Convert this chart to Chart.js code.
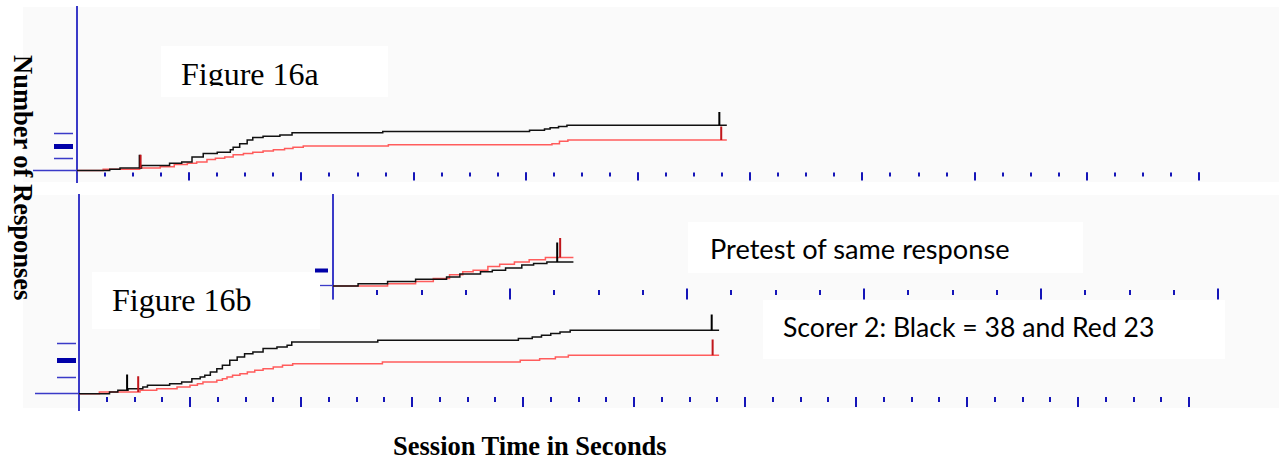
<!DOCTYPE html>
<html lang="en">
<head>
<meta charset="utf-8">
<title>Cumulative response records</title>
<script src="https://cdn.jsdelivr.net/npm/chart.js@4.4.1/dist/chart.umd.min.js"></script>
<style>
  html, body { margin: 0; padding: 0; background: #ffffff; }
  #stage { position: relative; width: 1279px; height: 461px; overflow: hidden; }
  .panel { position: absolute; background: #fafafa; }
  .box { position: absolute; background: #ffffff; overflow: hidden; }
  .txt { position: absolute; white-space: nowrap; color: #000; margin: 0; padding: 0; }
  canvas { position: absolute; left: 0; top: 0; }
</style>
</head>
<body>
<div id="stage">
  <canvas id="chartA" width="1279" height="461"></canvas>
  <canvas id="chartB" width="1279" height="461"></canvas>
  <canvas id="chartP" width="1279" height="461"></canvas>
</div>
<script>
// ---- Cumulative records: step times (s) and running response counts ----
// Figure 16a
const blackA_t = [0, 35, 46, 69, 99, 112, 123, 135, 150, 164, 167, 174, 182, 188, 199, 217, 230, 327, 484, 500, 506, 515, 524, 695];
const blackA_n = [0, 1, 2, 4, 6, 7, 11, 14, 15, 17, 19, 22, 25, 27, 28, 29, 31, 32, 33, 34, 35, 36, 37, 37];
const redA_t   = [0, 28, 67, 89, 104, 118, 128, 139, 148, 158, 167, 178, 188, 199, 210, 222, 231, 242, 333, 508, 516, 525, 695];
const redA_n   = [0, 1, 2, 3, 5, 6, 7, 9, 10, 11, 13, 14, 15, 16, 17, 18, 19, 20, 21, 22, 24, 25, 25];
const blackA_marks = [67, 687];
const redA_marks   = [68, 689];

// Figure 16b (scorer 2)
const blackB_t = [0, 33, 42, 53, 69, 74, 98, 111, 122, 131, 136, 142, 149, 155, 163, 171, 179, 188, 199, 214, 225, 230, 323, 475, 490, 500, 510, 520, 531, 692];
const blackB_n = [0, 1, 2, 3, 4, 5, 6, 7, 9, 10, 11, 13, 15, 17, 20, 22, 24, 25, 27, 28, 29, 31, 32, 33, 34, 35, 36, 37, 38, 38];
const redB_t   = [0, 22, 66, 84, 106, 120, 128, 134, 149, 155, 160, 166, 174, 182, 190, 199, 210, 220, 231, 328, 477, 498, 515, 529, 692];
const redB_n   = [0, 1, 2, 3, 4, 5, 6, 7, 8, 9, 10, 11, 12, 13, 14, 15, 16, 17, 18, 19, 20, 21, 22, 23, 23];
const blackB_marks = [52, 684];
const redB_marks   = [64, 685];

// Pretest of the same response
const blackP_t = [0, 17, 37, 56, 77, 86, 100, 108, 117, 128, 136, 145, 163];
const blackP_n = [0, 3, 6, 9, 12, 16, 19, 21, 24, 28, 30, 32, 32];
const redP_t   = [0, 37, 56, 68, 79, 88, 95, 105, 113, 123, 133, 144, 163];
const redP_n   = [0, 3, 6, 10, 15, 19, 21, 26, 29, 32, 35, 38, 38];
const blackP_marks = [152];
const redP_marks   = [154];

// Count-axis tick values
const countTicksMain = [0, 10, 20, 30];
const countTicksPre  = [0, 20];

// ---- helpers ----
const last = a => a[a.length - 1];
const stepPoints = (times, counts) => times.map((t, i) => ({x: t, y: counts[i]}));
function countAt(times, counts, t) {
  let n = 0;
  for (let i = 0; i < times.length; i++) if (times[i] <= t) n = counts[i];
  return n;
}
function markerPoints(marks, times, counts, rise) {
  const pts = [];
  marks.forEach(t => {
    const n = countAt(times, counts, t);
    pts.push({x: t, y: n}, {x: t, y: n + rise}, {x: t, y: null});
  });
  return pts;
}

const AXIS_BLUE = '#3a3ac8';
const TICK_BLUE = '#1515b8';
const THICK_BLUE = '#0000a8';
const LINE_BLACK = '#111111';
const LINE_RED = '#ff5c5c';
const MARK_RED = '#c0161b';

function makeRecord(canvasId, cfg) {
  const isThick = c => c.tick && c.tick.value === 20;
  const isBase = c => c.tick && c.tick.value === 0;
  const xAxis = (step, gap, len) => ({
    type: 'linear', axis: 'x', min: 0, max: cfg.xMax, position: {y: 0},
    ticks: {display: false, stepSize: step},
    grid: {display: true, drawOnChartArea: false, drawTicks: true, lineWidth: 2,
           tickLength: gap + len, tickWidth: 2, tickColor: TICK_BLUE,
           tickBorderDash: [0, gap, len, 200]},
    border: {display: false}
  });
  return new Chart(document.getElementById(canvasId), {
    type: 'line',
    data: {
      datasets: [
        {data: markerPoints(cfg.redMarks, cfg.redT, cfg.redN, cfg.rise), borderColor: MARK_RED, borderWidth: 2,
         pointRadius: 0, spanGaps: false, stepped: false},
        {data: markerPoints(cfg.blackMarks, cfg.blackT, cfg.blackN, cfg.rise), borderColor: '#000000', borderWidth: 2,
         pointRadius: 0, spanGaps: false, stepped: false},
        {data: stepPoints(cfg.blackT, cfg.blackN), borderColor: LINE_BLACK, borderWidth: 1.5, pointRadius: 0, stepped: true},
        {data: stepPoints(cfg.redT, cfg.redN), borderColor: LINE_RED, borderWidth: 1.5, pointRadius: 0, stepped: true}
      ]
    },
    options: {
      responsive: false, animation: false, devicePixelRatio: 1, events: [],
      layout: {padding: cfg.area},
      plugins: {legend: {display: false}, tooltip: {enabled: false}},
      scales: {
        x: xAxis(cfg.minorStep, cfg.xt.gap, cfg.xt.minor),
        xMajor: xAxis(cfg.majorStep, cfg.xt.majorGap, cfg.xt.major),
        y: {
          type: 'linear', min: cfg.yMin, max: cfg.yMax, position: {x: 0},
          afterBuildTicks: s => { s.ticks = cfg.yTicks.map(v => ({value: v})); },
          ticks: {display: false},
          grid: {display: true, drawOnChartArea: false, drawTicks: true, lineWidth: 1,
                 tickLength: Math.max(cfg.yt.base, cfg.yt.gap + cfg.yt.len),
                 tickWidth: c => isThick(c) ? cfg.yt.thick : 1.3,
                 tickColor: c => isThick(c) ? THICK_BLUE : AXIS_BLUE,
                 tickBorderDash: c => isBase(c) ? [cfg.yt.base, 200] : [0, cfg.yt.gap, cfg.yt.len, 200]},
          border: {display: true, color: AXIS_BLUE, width: 2}
        }
      }
    }
  });
}

// ---- page furniture: panel backgrounds, text boxes, titles ----
const stage = document.getElementById('stage');
const firstCanvas = document.getElementById('chartA');
function addRect(cls, r) {
  const d = document.createElement('div');
  d.className = cls;
  Object.assign(d.style, {left: r.l + 'px', top: r.t + 'px', width: (r.r - r.l) + 'px', height: (r.b - r.t) + 'px'});
  stage.insertBefore(d, firstCanvas);
  return d;
}
const measure = document.createElement('canvas').getContext('2d');
function addText(spec) {
  measure.font = spec.font;
  const m = measure.measureText(spec.text);
  const asc = m.fontBoundingBoxAscent, desc = m.fontBoundingBoxDescent;
  const el = document.createElement('div');
  el.className = 'txt';
  el.textContent = spec.text;
  el.style.font = spec.font;
  el.style.lineHeight = (asc + desc) + 'px';
  let host = stage, ox = 0, oy = 0;
  if (spec.clip) {
    host = addRect('box', spec.clip);
    ox = spec.clip.l; oy = spec.clip.t;
  }
  el.style.left = (spec.x - ox) + 'px';
  el.style.top = (spec.baseline - asc - oy) + 'px';
  const tf = [];
  if (spec.rotate) tf.push('rotate(' + spec.rotate + 'deg)');
  if (spec.width) tf.push('scaleX(' + (spec.width / m.width) + ')');
  if (tf.length) { el.style.transformOrigin = '0px ' + asc + 'px'; el.style.transform = tf.join(' '); }
  if (host === stage) stage.insertBefore(el, firstCanvas); else host.appendChild(el);
}

addRect('panel', {l: 23, t: 7, r: 1279, b: 182});
addRect('panel', {l: 23, t: 195, r: 1279, b: 408});
addRect('box', {l: 161, t: 46, r: 388, b: 97});
addRect('box', {l: 92, t: 272, r: 320, b: 329});
addRect('box', {l: 688, t: 222, r: 1083, b: 273});
addRect('box', {l: 763, t: 300, r: 1225, b: 359});

const SERIF = '"Liberation Serif", "Times New Roman", serif';
const SANS = 'Lato, "Open Sans", sans-serif';
addText({text: 'Figure 16a', font: '32px ' + SERIF, x: 181, baseline: 85, clip: {l: 161, t: 46, r: 388, b: 86}});
addText({text: 'Figure 16b', font: '32px ' + SERIF, x: 112, baseline: 310.5});
addText({text: 'Pretest of same response', font: '26px ' + SANS, x: 710, baseline: 259, width: 300});
addText({text: 'Scorer 2: Black = ' + last(blackB_n) + ' and Red ' + last(redB_n), font: '26px ' + SANS, x: 783, baseline: 337, width: 372});
addText({text: 'Session Time in Seconds', font: 'bold 26.5px ' + SERIF, x: 393, baseline: 455});
addText({text: 'Number of Responses', font: 'bold 26.5px ' + SERIF, x: 14, baseline: 55, rotate: 90});

// ---- the three cumulative records ----
makeRecord('chartA', {
  area: {left: 77, top: 7, right: 80, bottom: 279}, xMax: 1200, minorStep: 30, majorStep: 120,
  yMin: -9.43, yMax: 134, yTicks: countTicksMain, rise: 11,
  xt: {gap: 2.5, minor: 4, majorGap: 2.5, major: 8},
  yt: {base: 43, gap: 3, len: 19, thick: 5},
  blackT: blackA_t, blackN: blackA_n, redT: redA_t, redN: redA_n,
  blackMarks: blackA_marks, redMarks: redA_marks
});
makeRecord('chartB', {
  area: {left: 79, top: 195, right: 90, bottom: 51}, xMax: 1200, minorStep: 30, majorStep: 120,
  yMin: -9.76, yMax: 119, yTicks: countTicksMain, rise: 9.5,
  xt: {gap: 3, minor: 5, majorGap: 3, major: 10},
  yt: {base: 43, gap: 2, len: 19, thick: 5},
  blackT: blackB_t, blackN: blackB_n, redT: redB_t, redN: redB_n,
  blackMarks: blackB_marks, redMarks: redB_marks
});
makeRecord('chartP', {
  area: {left: 333, top: 195, right: 61, bottom: 163}, xMax: 600, minorStep: 30, majorStep: 120,
  yMin: -16, yMax: 121.3, yTicks: countTicksPre, rise: 26,
  xt: {gap: 4, minor: 5, majorGap: 2.5, major: 11},
  yt: {base: 12, gap: 4, len: 13, thick: 4},
  blackT: blackP_t, blackN: blackP_n, redT: redP_t, redN: redP_n,
  blackMarks: blackP_marks, redMarks: redP_marks
});
</script>
</body>
</html>
